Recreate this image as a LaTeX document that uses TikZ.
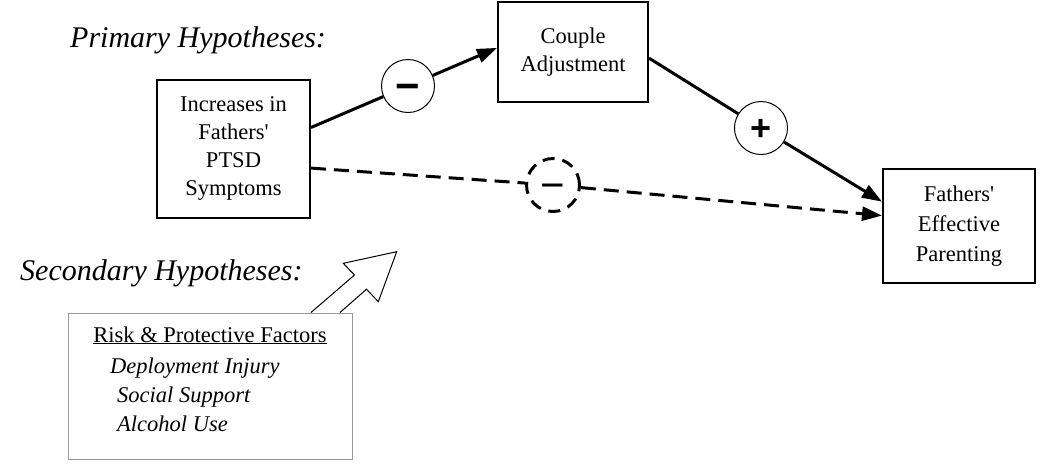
\documentclass[tikz,border=0pt]{standalone}
\usepackage{fontspec}
\setmainfont{Liberation Serif}
\newfontfamily\symfont{Liberation Sans}
\usetikzlibrary{arrows.meta,calc}
\begin{document}
\begin{tikzpicture}[x=1pt,y=-1pt,
  box/.style={draw,line width=2pt,align=center,inner sep=0pt,font=\rmfamily\fontsize{22.5}{28}\selectfont},
  sign/.style={circle,draw,line width=1pt,minimum size=53pt,inner sep=0pt,text height=25.6pt,text depth=0pt,font=\symfont\bfseries\fontsize{36}{36}\selectfont},
  minus/.style={text height=29.8pt,font=\symfont\bfseries\fontsize{42}{42}\selectfont},
  conn/.style={line width=3pt,-{Triangle[length=20pt,width=14pt]}},
  seg/.style={line width=3pt},
  dashline/.style={line width=3pt,dash pattern=on 15pt off 8pt},
  hyp/.style={anchor=base west,inner sep=0pt,font=\rmfamily\itshape\fontsize{30}{30}\selectfont},
  factor/.style={anchor=base west,inner sep=0pt,font=\rmfamily\fontsize{22.5}{28}\selectfont}]
\useasboundingbox (0,0) rectangle (1050,475);

% boxes
\node[box,minimum width=153pt,minimum height=138pt] (ptsd) at (233.5,148.5) {Increases in\\Fathers\textquotesingle\\PTSD\\Symptoms};
\node[box,minimum width=150pt,minimum height=100pt] (couple) at (573,52) {Couple\\Adjustment};
\node[box,minimum width=152pt,minimum height=114pt,font=\rmfamily\fontsize{22.5}{30}\selectfont] (parent) at (959,226) {Fathers\textquotesingle\\Effective\\Parenting};
\node[draw=black!40,line width=1pt,minimum width=284pt,minimum height=146pt,inner sep=0pt] (risk) at (210,386) {};

% sign circles
\node[sign,minus] (m1) at (408,86) {−};
\node[sign] (p1) at (761,128) {+};
\node[sign,minus,line width=3pt,dash pattern=on 12pt off 8pt,font=\symfont\fontsize{42}{42}\selectfont] (m2) at (553,185) {−};

% anchor points
\coordinate (a1) at ($(ptsd.north east)!0.35!(ptsd.south east)$);
\coordinate (a2) at ($(ptsd.north east)!0.64!(ptsd.south east)$);
\coordinate (b1) at ($(couple.north west)!0.46!(couple.south west)$);
\coordinate (b2) at ($(couple.north east)!0.56!(couple.south east)$);
\coordinate (c1) at ($(parent.north west)!0.29!(parent.south west)$);
\coordinate (c2) at ($(parent.north west)!0.41!(parent.south west)$);

% connectors
\draw[seg] (a1) -- (m1);
\draw[conn] (m1) -- (b1);
\draw[seg] (b2) -- (p1);
\draw[conn] (p1) -- (c1);
\draw[dashline] (a2) -- (m2);
\draw[dashline,-{Triangle[length=20pt,width=14pt]}] (m2) -- (c2);

% hollow arrow
\draw[line width=1pt,fill=white] (311,312.5) -- (354.5,275) -- (343.3,263.3) -- (396.7,251.7) -- (378.3,301.7) -- (366.5,289.2) -- (340,312.5);

% labels
\node[hyp] (prim) at (70,47) {Primary Hypotheses:};
\node[hyp] (sec) at (20,280) {Secondary Hypotheses:};
\node[factor,anchor=base] (rtitle) at (210,342) {\underline{Risk \& Protective Factors}};
\node[factor,font=\rmfamily\itshape\fontsize{22.5}{28}\selectfont] (f1) at (110,373) {Deployment Injury};
\node[factor,font=\rmfamily\itshape\fontsize{22.5}{28}\selectfont] (f2) at (117,402) {Social Support};
\node[factor,font=\rmfamily\itshape\fontsize{22.5}{28}\selectfont] (f3) at (117,431) {Alcohol Use};
\end{tikzpicture}
\end{document}
